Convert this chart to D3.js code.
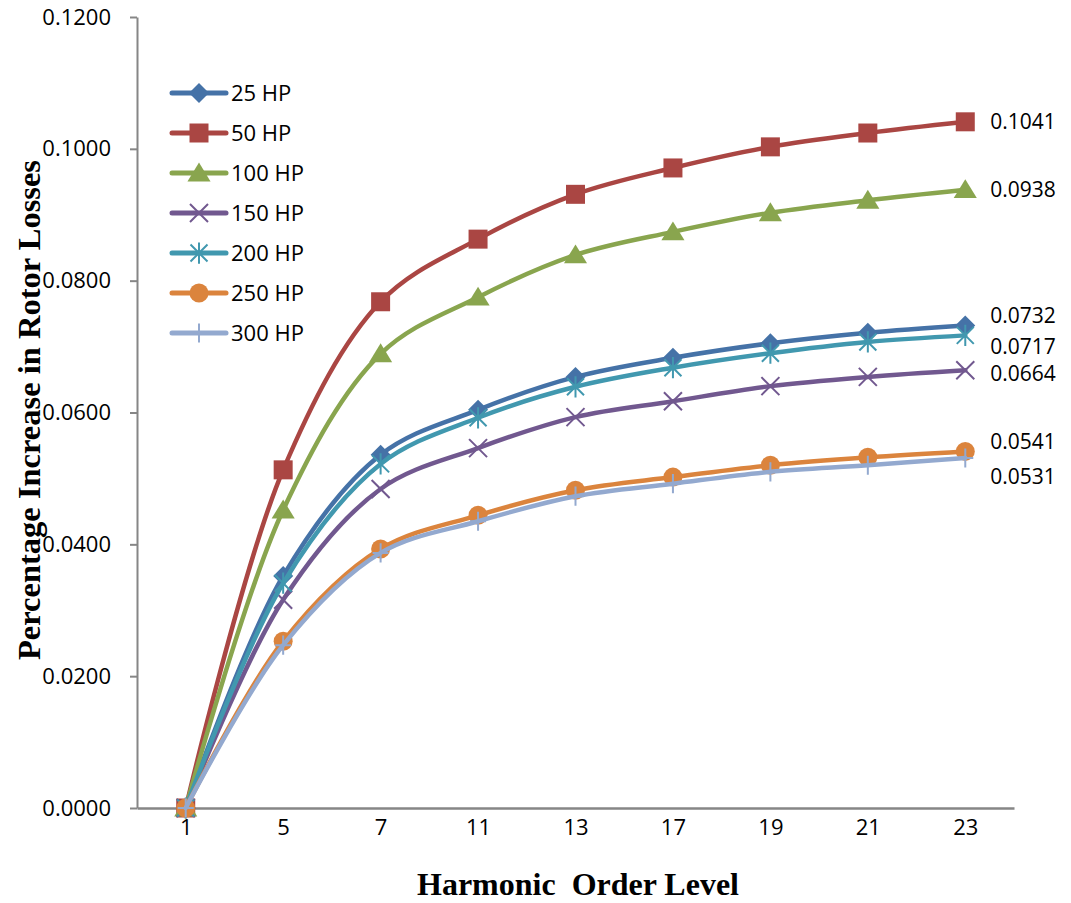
<!DOCTYPE html>
<html>
<head>
<meta charset="utf-8">
<script src="https://cdn.jsdelivr.net/npm/d3@7"></script>
<style>
  html, body { margin: 0; padding: 0; background: #fff; }
  svg { display: block; }
</style>
</head>
<body>
<svg id="chart" width="1071" height="903"></svg>
<script>
// ---------------- DATA ----------------
const categories = ["1", "5", "7", "11", "13", "17", "19", "21", "23"];
const seriesNames = ["25 HP", "50 HP", "100 HP", "150 HP", "200 HP", "250 HP", "300 HP"];
const hp25  = [0, 0.0352, 0.0536, 0.0604, 0.0654, 0.0683, 0.0705, 0.0721, 0.0732];
const hp50  = [0, 0.0513, 0.0768, 0.0863, 0.0931, 0.0971, 0.1003, 0.1024, 0.1041];
const hp100 = [0, 0.0452, 0.0689, 0.0775, 0.0839, 0.0874, 0.0903, 0.0922, 0.0938];
const hp150 = [0, 0.0316, 0.0484, 0.0546, 0.0593, 0.0617, 0.0640, 0.0654, 0.0664];
const hp200 = [0, 0.0341, 0.0522, 0.0592, 0.0639, 0.0668, 0.0690, 0.0707, 0.0717];
const hp250 = [0, 0.0253, 0.0393, 0.0444, 0.0482, 0.0502, 0.0520, 0.0532, 0.0541];
const hp300 = [0, 0.0247, 0.0387, 0.0435, 0.0473, 0.0492, 0.0510, 0.0520, 0.0531];
const yTicks = [0, 0.02, 0.04, 0.06, 0.08, 0.10, 0.12];
const endLabels = ["0.0732", "0.1041", "0.0938", "0.0664", "0.0717", "0.0541", "0.0531"];
const xTitle = "Harmonic  Order Level";
const yTitle = "Percentage Increase in Rotor Losses";

// ---------------- STYLE / LAYOUT ----------------
const seriesValues = [hp25, hp50, hp100, hp150, hp200, hp250, hp300];
const colors  = ["#4572A7", "#AA4643", "#89A54E", "#71588F", "#4198AF", "#DB843D", "#93A9CF"];
const markers = ["diamond", "square", "triangle", "x", "asterisk", "circle", "plus"];
const labelNudge = [-10, 0, 0, 3, 11, -10, 19]; // vertical nudge of end labels to avoid overlap

const numFont = "'Open Sans', sans-serif";
const titleFont = "'Liberation Serif', 'Times New Roman', serif";
const axisColor = "#868686";

const svg = d3.select("#chart");
const plotLeft = 137, plotRight = 1014, plotTop = 17, plotBottom = 808;

const x = d3.scalePoint().domain(categories).range([plotLeft, plotRight]).padding(0.5);
const y = d3.scaleLinear().domain([0, 0.12]).range([plotBottom, plotTop]);

// marker path generator
function markerPath(type, r) {
  const p = d3.path();
  switch (type) {
    case "diamond":
      p.moveTo(0, -r); p.lineTo(r, 0); p.lineTo(0, r); p.lineTo(-r, 0); p.closePath(); break;
    case "square":
      p.rect(-r, -r, 2 * r, 2 * r); break;
    case "triangle":
      p.moveTo(0, -r); p.lineTo(r * 1.1, r * 0.8); p.lineTo(-r * 1.1, r * 0.8); p.closePath(); break;
    case "circle":
      p.arc(0, 0, r, 0, 2 * Math.PI); break;
    case "x":
      p.moveTo(-r, -r); p.lineTo(r, r); p.moveTo(r, -r); p.lineTo(-r, r); break;
    case "asterisk":
      p.moveTo(-r, -r); p.lineTo(r, r); p.moveTo(r, -r); p.lineTo(-r, r);
      p.moveTo(0, -r * 1.25); p.lineTo(0, r * 1.25); break;
    case "plus":
      p.moveTo(0, -r * 1.2); p.lineTo(0, r * 1.2); p.moveTo(-r, 0); p.lineTo(r, 0); break;
  }
  return p.toString();
}
const markerSize = { diamond: 10, square: 9.5, triangle: 10.5, circle: 9.5, x: 9, asterisk: 8.5, plus: 8 };
const filled = { diamond: true, square: true, triangle: true, circle: true, x: false, asterisk: false, plus: false };

function drawMarker(g, type, color, cx, cy) {
  const path = g.append("path")
    .attr("transform", `translate(${cx},${cy})`)
    .attr("d", markerPath(type, markerSize[type]));
  if (filled[type]) path.attr("fill", color).attr("stroke", "none");
  else path.attr("fill", "none").attr("stroke", color).attr("stroke-width", 2);
}

// ---------------- AXES ----------------
const yAxis = d3.axisLeft(y).tickValues(yTicks).tickFormat(d3.format(".4f"))
  .tickSize(7).tickSizeOuter(0).tickPadding(19);
const gy = svg.append("g").attr("transform", `translate(${plotLeft},0)`).call(yAxis);
gy.select(".domain").attr("stroke", axisColor).attr("stroke-width", 2);
gy.selectAll(".tick line").attr("stroke", axisColor).attr("stroke-width", 2);
gy.selectAll(".tick text").attr("font-family", numFont).attr("font-size", 22).attr("fill", "#000");

const xAxis = d3.axisBottom(x).tickSize(0).tickSizeOuter(0).tickPadding(11);
const gx = svg.append("g").attr("transform", `translate(0,${plotBottom})`).call(xAxis);
gx.select(".domain").attr("stroke", axisColor).attr("stroke-width", 2.5);
gx.selectAll(".tick text").attr("font-family", numFont).attr("font-size", 22).attr("fill", "#000");

// ---------------- SERIES ----------------
const line = d3.line()
  .x((d, i) => x(categories[i]))
  .y(d => y(d))
  .curve(d3.curveCatmullRom.alpha(0.5));

const plot = svg.append("g");
seriesValues.forEach((vals, si) => {
  const g = plot.append("g");
  g.append("path").datum(vals)
    .attr("d", line)
    .attr("fill", "none")
    .attr("stroke", colors[si])
    .attr("stroke-width", 4.5)
    .attr("stroke-linejoin", "round")
    .attr("stroke-linecap", "round");
  vals.forEach((v, i) => drawMarker(g, markers[si], colors[si], x(categories[i]), y(v)));
});

// end-of-line labels
seriesValues.forEach((vals, si) => {
  const last = vals.length - 1;
  svg.append("text")
    .attr("x", x(categories[last]) + 25)
    .attr("y", y(vals[last]) + labelNudge[si])
    .attr("dy", "0.35em")
    .attr("font-family", numFont)
    .attr("font-size", 21)
    .attr("fill", "#000")
    .text(endLabels[si]);
});

// ---------------- LEGEND ----------------
const legend = svg.append("g");
seriesNames.forEach((name, si) => {
  const ly = 93 + si * 40;
  legend.append("line")
    .attr("x1", 172).attr("x2", 226).attr("y1", ly).attr("y2", ly)
    .attr("stroke", colors[si]).attr("stroke-width", 5).attr("stroke-linecap", "round");
  drawMarker(legend, markers[si], colors[si], 199, ly);
  legend.append("text")
    .attr("x", 231).attr("y", ly).attr("dy", "0.35em")
    .attr("font-family", numFont).attr("font-size", 22).attr("fill", "#000")
    .text(name);
});

// ---------------- TITLES ----------------
svg.append("text")
  .attr("x", 578).attr("y", 895)
  .attr("text-anchor", "middle")
  .attr("font-family", titleFont).attr("font-weight", "bold").attr("font-size", 32)
  .attr("fill", "#000")
  .style("white-space", "pre")
  .text(xTitle);

svg.append("text")
  .attr("transform", "translate(40,410) rotate(-90)")
  .attr("text-anchor", "middle")
  .attr("font-family", titleFont).attr("font-weight", "bold").attr("font-size", 32.5)
  .attr("fill", "#000")
  .text(yTitle);
</script>
</body>
</html>
